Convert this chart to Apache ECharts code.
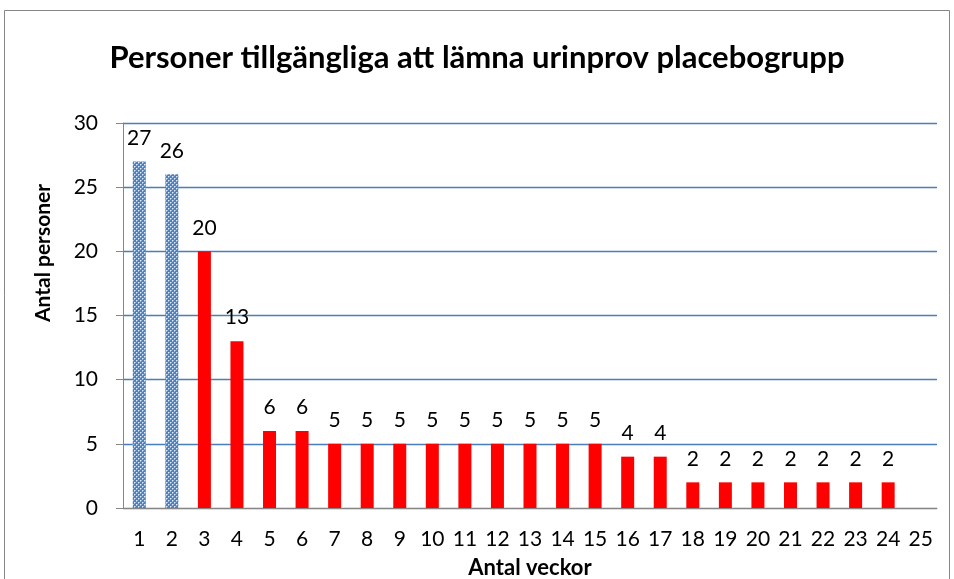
<!DOCTYPE html>
<html>
<head>
<meta charset="utf-8">
<script src="https://cdn.jsdelivr.net/npm/echarts@6/dist/echarts.min.js"></script>
<style>
  html, body { margin: 0; padding: 0; background: #fff; }
  #chart { width: 954px; height: 579px; }
</style>
</head>
<body>
<div id="chart"></div>
<script>
const weeks = ['1', '2', '3', '4', '5', '6', '7', '8', '9', '10', '11', '12', '13',
  '14', '15', '16', '17', '18', '19', '20', '21', '22', '23', '24', '25']
const persons = [27, 26, 20, 13, 6, 6, 5, 5, 5, 5, 5, 5, 5, 5, 5, 4, 4, 2, 2, 2, 2, 2, 2, 2, null]
const patterned = [0, 1] // first two weeks drawn with dotted blue fill

const font = 'Lato, "Open Sans", sans-serif'

// small tile: blue with white dots
function makePattern () {
  const c = document.createElement('canvas')
  c.width = 4
  c.height = 4
  const ctx = c.getContext('2d')
  ctx.fillStyle = '#4F81BD'
  ctx.fillRect(0, 0, 4, 4)
  ctx.fillStyle = '#dfe8f5'
  ctx.fillRect(0, 0, 1, 1)
  ctx.fillRect(2, 2, 1, 1)
  ctx.fillStyle = '#9db7dc'
  ctx.fillRect(1, 0, 1, 1)
  ctx.fillRect(0, 1, 1, 1)
  ctx.fillRect(3, 2, 1, 1)
  ctx.fillRect(2, 3, 1, 1)
  return c
}
const pattern = { image: makePattern(), repeat: 'repeat' }

const chart = echarts.init(document.getElementById('chart'))

const option = {
  animation: false,
  title: {
    text: 'Personer tillgängliga att lämna urinprov placebogrupp',
    left: 'center',
    top: 37,
    textStyle: { fontFamily: font, fontSize: 31, fontWeight: 'bold', color: '#000' }
  },
  graphic: [{
    type: 'rect',
    shape: { x: 4.5, y: 10.5, width: 945, height: 600 },
    style: { fill: null, stroke: '#868686', lineWidth: 1 },
    silent: true
  }, {
    // y axis title, placed above the plot middle as in the original
    type: 'text',
    x: 43,
    y: 253,
    rotation: Math.PI / 2,
    style: {
      text: 'Antal personer',
      font: 'bold 21px ' + font,
      fill: '#000',
      align: 'center',
      verticalAlign: 'middle'
    },
    silent: true
  }],
  grid: { left: 123, right: 17, top: 123, bottom: 71, outerBoundsMode: 'none' },
  xAxis: {
    type: 'category',
    data: weeks,
    name: 'Antal veckor',
    nameLocation: 'middle',
    nameGap: 49,
    nameTextStyle: { fontFamily: font, fontSize: 22, fontWeight: 'bold', color: '#000' },
    axisLine: { lineStyle: { color: '#868686', width: 1 } },
    axisTick: { length: 7, lineStyle: { color: '#868686' } },
    axisLabel: { fontFamily: font, fontSize: 21, color: '#000', margin: 21, interval: 0 }
  },
  yAxis: {
    type: 'value',
    min: 0,
    max: 30,
    interval: 5,
    axisLine: { show: true, lineStyle: { color: '#868686', width: 1 } },
    axisTick: { show: true, length: 7, lineStyle: { color: '#868686' } },
    axisLabel: { fontFamily: font, fontSize: 21, color: '#000', margin: 25 },
    splitLine: { lineStyle: { color: '#4A7EBB', width: 1.3 } }
  },
  series: [{
    type: 'bar',
    barWidth: 13,
    data: persons.map((v, i) => ({
      value: v,
      itemStyle: { color: patterned.includes(i) ? pattern : '#FF0000' }
    })),
    label: {
      show: true,
      position: 'top',
      distance: 13,
      fontFamily: font,
      fontSize: 21,
      color: '#000'
    }
  }]
}

chart.setOption(option)
</script>
</body>
</html>
